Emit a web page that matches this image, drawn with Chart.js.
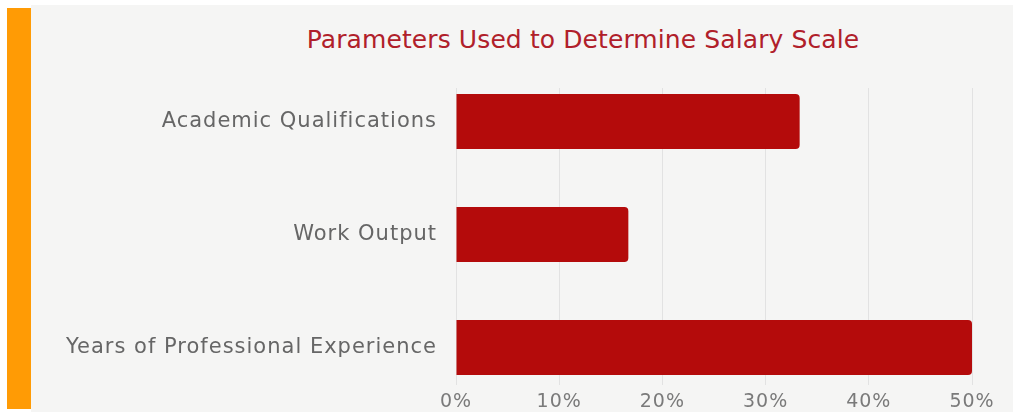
<!DOCTYPE html>
<html>
<head>
<meta charset="utf-8">
<script src="https://cdn.jsdelivr.net/npm/chart.js@4/dist/chart.umd.min.js"></script>
<style>
  body { margin:0; background:#fff; width:1013px; height:412px; overflow:hidden; position:relative; font-family:"DejaVu Sans", sans-serif; }
  #stripe { position:absolute; left:7px; top:8px; width:24px; height:401px; background:#ff9b05; }
  #panel { position:absolute; left:31px; top:5px; width:982px; height:407px; background:#f5f5f4; }
  #title { position:absolute; left:153px; width:860px; top:25px; text-align:center; color:#b0202a; font-size:25px; letter-spacing:0.1px; }
  #wrap { position:absolute; left:31px; top:60px; width:982px; height:352px; }
</style>
</head>
<body>
<div id="stripe"></div>
<div id="panel"></div>
<div id="title">Parameters Used to Determine Salary Scale</div>
<div id="wrap"><canvas id="salaryChart"></canvas></div>
<script>
const categories = ['Academic Qualifications', 'Work Output', 'Years of Professional Experience'];
const shares = [33.3, 16.7, 50];
const xTicks = [0, 10, 20, 30, 40, 50];

// widen the axis lettering a touch
const spacing = {
  id: 'spacing',
  beforeDraw: chart => { chart.ctx.letterSpacing = '1px'; }
};

new Chart(document.getElementById('salaryChart'), {
  type: 'bar',
  data: {
    datasets: [{
      data: shares.map((v, i) => ({ x: v, y: i })),
      backgroundColor: '#b40b0b',
      borderRadius: 4,
      borderSkipped: 'start',
      categoryPercentage: 1,
      barPercentage: 0.487
    }]
  },
  options: {
    indexAxis: 'y',
    responsive: true,
    maintainAspectRatio: false,
    animation: false,
    layout: { padding: { top: 28, right: 41, left: 0, bottom: 0 } },
    plugins: { legend: { display: false }, tooltip: { enabled: false } },
    scales: {
      x: {
        type: 'linear',
        min: 0,
        max: 50,
        afterBuildTicks: axis => { axis.ticks = xTicks.map(v => ({ value: v })); },
        afterFit: axis => { axis.height = 27; },
        grid: { color: '#e2e2e2', drawTicks: false },
        border: { display: false },
        ticks: {
          padding: 6,
          color: '#7a7a7a',
          font: { family: 'DejaVu Sans', size: 19 },
          callback: v => v + '%'
        }
      },
      y: {
        type: 'linear',
        reverse: true,
        offset: false,
        min: -0.296,
        max: 2.332,
        afterBuildTicks: axis => { axis.ticks = categories.map((c, i) => ({ value: i })); },
        afterFit: axis => { axis.width = 425; },
        grid: { display: false },
        border: { display: false },
        ticks: {
          padding: 11,
          color: '#666',
          font: { family: 'DejaVu Sans', size: 21 },
          callback: v => categories[v]
        }
      }
    }
  },
  plugins: [spacing]
});
</script>
</body>
</html>
